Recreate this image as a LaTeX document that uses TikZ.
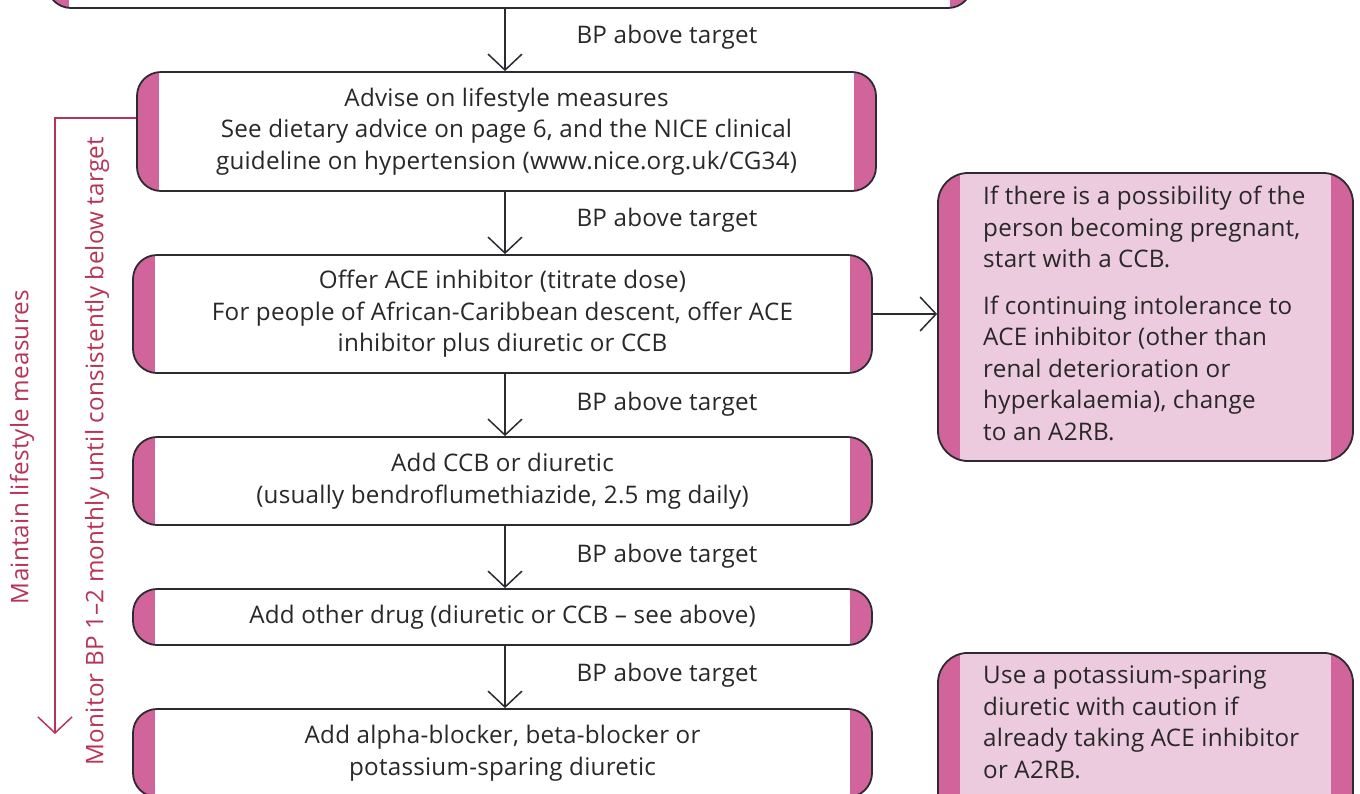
\documentclass[tikz,border=0pt]{standalone}
\usepackage{fontspec}
\setmainfont{Open Sans}[LetterSpace=1.0]
\usetikzlibrary{arrows.meta,calc}
\definecolor{bordc}{RGB}{45,42,48}
\definecolor{stripc}{RGB}{208,100,155}
\definecolor{lightpink}{RGB}{237,203,222}
\definecolor{crim}{RGB}{183,52,88}
\definecolor{txtc}{RGB}{40,40,40}
\newcommand{\fsz}{\fontsize{24.2}{31.5}\selectfont}
\tikzset{
  stripw/.store in=\stripw, stripw=22pt,
  box/.style={draw=bordc, line width=1.8pt, rounded corners=24pt, fill=white,
    align=center, text=txtc, inner sep=0pt, font=\fsz,
    path picture={
      \fill[stripc, sharp corners] (path picture bounding box.south west) rectangle ([xshift=\stripw]path picture bounding box.north west);
      \fill[stripc, sharp corners] ([xshift=-\stripw]path picture bounding box.south east) rectangle (path picture bounding box.north east);
    }},
  notebox/.style={box, fill=lightpink, rounded corners=30pt, align=left},
  arr/.style={draw=bordc, line width=1.5pt, -{Straight Barb[length=16pt,width=34pt,line width=1.5pt]}},
  redarr/.style={draw=crim, line width=1.5pt, -{Straight Barb[length=16pt,width=34pt,line width=1.5pt]}},
  lbl/.style={text=txtc, font=\fsz, inner sep=0pt},
  sidelbl/.style={text=crim, font=\fsz, inner sep=0pt, rotate=90},
}
\begin{document}
\begin{tikzpicture}[x=1pt,y=-1pt]
\useasboundingbox (0,0) rectangle (1360,793);
\clip (0,0) rectangle (1360,793);

\node[box, minimum width=925pt, minimum height=70pt] (top) at (509.5,-27) {};
\node[box, minimum width=739pt, minimum height=119pt] (advise) at (506.5,131.5)
  {Advise on lifestyle measures\\See dietary advice on page 6, and the NICE clinical\\guideline on hypertension (www.nice.org.uk/CG34)};
\node[box, minimum width=739pt, minimum height=118pt] (ace) at (502.5,314)
  {Offer ACE inhibitor (titrate dose)\\For people of African-Caribbean descent, offer ACE\\inhibitor plus diuretic or CCB};
\node[box, minimum width=739pt, minimum height=88pt] (ccb) at (502.5,481)
  {Add CCB or diuretic\\(usually bendroflumethiazide, 2.5 mg daily)};
\node[box, minimum width=739pt, minimum height=56pt] (other) at (502.5,617)
  {Add other drug (diuretic or CCB -- see above)};
\node[box, minimum width=739pt, minimum height=88pt] (alpha) at (502.5,753)
  {Add alpha-blocker, beta-blocker or\\potassium-sparing diuretic};

\node[notebox, minimum width=415pt, minimum height=288pt] (note1) at (1145.5,317) {};
\node[lbl, anchor=north west, align=left] (note1txt) at (983,186)
  {If there is a possibility of the\\person becoming pregnant,\\start with a CCB.\\[15pt]
   If continuing intolerance to\\ACE inhibitor (other than\\renal deterioration or\\hyperkalaemia), change\\to an A2RB.};
\node[notebox, minimum width=415pt, minimum height=170pt, anchor=north] (note2) at (1145.5,652) {};
\node[lbl, anchor=north west, align=left] (note2txt) at (983,666)
  {Use a potassium-sparing\\diuretic with caution if\\already taking ACE inhibitor\\or A2RB.};

\coordinate (ax) at (505,0);
\draw[arr] (ax |- top.south) -- (ax |- advise.north);
\draw[arr] (ax |- advise.south) -- (ax |- ace.north);
\draw[arr] (ax |- ace.south) -- (ax |- ccb.north);
\draw[arr] (ax |- ccb.south) -- (ax |- other.north);
\draw[arr] (ax |- other.south) -- (ax |- alpha.north);
\draw[arr] (ace.east) -- (ace.east -| note1.west);

\node[lbl] (l1) at (667,37) {BP above target};
\node[lbl] (l2) at (667,220) {BP above target};
\node[lbl] (l3) at (667,404) {BP above target};
\node[lbl] (l4) at (667,556) {BP above target};
\node[lbl] (l5) at (667,675) {BP above target};

\coordinate (rs) at ($(advise.west)+(0,-13.5)$);
\coordinate (rc) at (55,0);
\coordinate (re) at (55,734);
\draw[redarr] (rs) -- (rc |- rs) -- (re);

\node[sidelbl] (maint) at (22,447) {Maintain lifestyle measures};
\node[sidelbl] (monit) at (97,451) {Monitor BP 1--2 monthly until consistently below target};
\end{tikzpicture}
\end{document}
